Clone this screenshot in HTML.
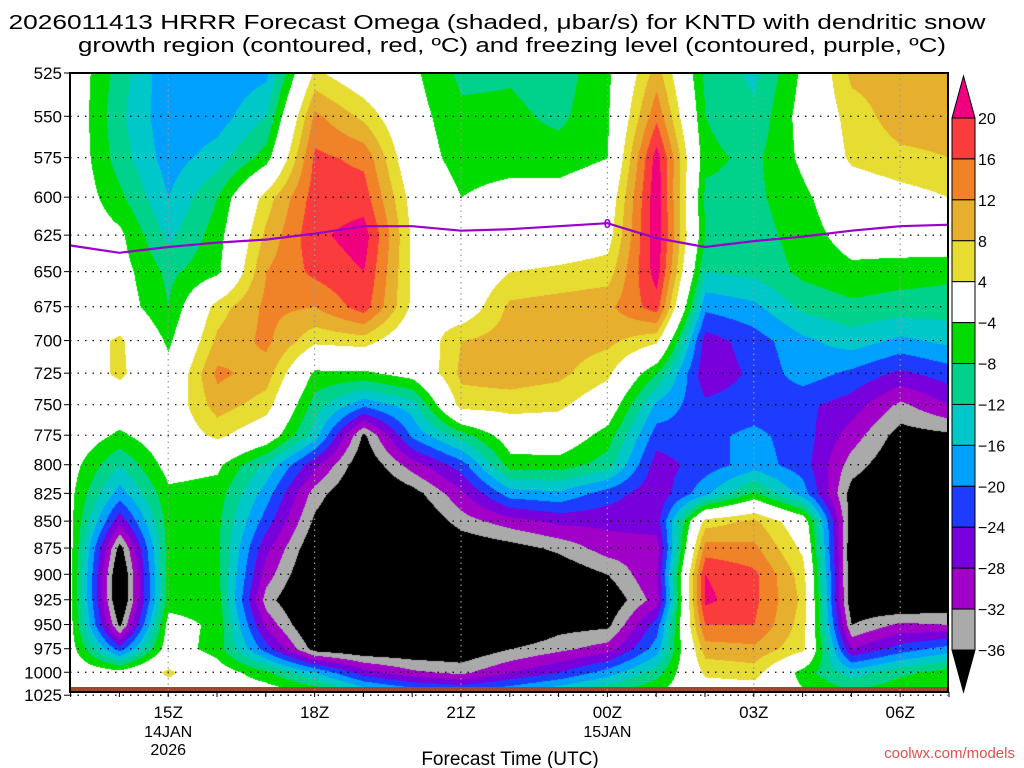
<!DOCTYPE html>
<html><head><meta charset="utf-8">
<style>
html,body{margin:0;padding:0;background:#fff;width:1024px;height:768px;overflow:hidden}
#wrap{position:relative;width:1024px;height:768px}
#fill{position:absolute;left:70px;top:73px}
svg{position:absolute;left:0;top:0}
text{font-family:"Liberation Sans",sans-serif}
</style></head><body>
<div id="wrap">
<canvas id="fill" width="878" height="620"></canvas>
<svg id="ov" width="1024" height="768"></svg>
</div>
<script>
// ---- data ----
const times = ["13Z","14Z","15Z","16Z","17Z","18Z","19Z","20Z","21Z","22Z","23Z","00Z","01Z","02Z","03Z","04Z","05Z","06Z","07Z"];
const levels = [525,550,575,600,625,650,675,700,725,750,775,800,825,850,875,900,925,950,975,1000,1025];
const w525 = [0,-10,-19,-19,-17,5,0,-3,-9,-8.5,-10,-5,10,-9,-13,-3,9,10,10];
const w550 = [0,-11,-19,-18,-12,13,7,-2,-7,-7,-9,-4.5,15,-8,-11,-2,6,10,10];
const w575 = [0,-10,-18,-14,-6,17,15,-1,-6,-6,-6,-4,22,-7,-9,-3,5,7,8];
const w600 = [0,-7,-16,-8,6,18,18,2,-4,-2,-2,0,23,-9,-9,-5,0,2,4];
const w625 = [0,-3,-13,-6,9,19,22,3,-1,-1,0,2,23,-8,-10,-6,-2,-1,0];
const w650 = [0,-2,-9,-5,12,17,20,3,-1,4,5,6,22,-12,-11,-7,-5,-6,-7];
const w675 = [0,-1,-8,6,13,12,18,3,0,9,10,11,18,-19,-17,-11,-9,-10,-10];
const w700 = [0,5,-5,9,13,5,6,-1,8,10,10,9,5,-26,-22,-17,-14,-17,-15];
const w725 = [0,5,-2,13,10,-5,-5,-2,9,10,9,5,-8,-27,-23,-18,-21,-25,-22];
const w750 = [0,0,0,10,6,-10,-19,-14,6,6,5,0,-17,-23,-22,-23,-26,-33,-28];
const w775 = [0,-5,0,5,0,-14,-37,-19,-10,-1,0,-6,-22,-21,-19,-22,-30,-38,-37];
const w800 = [-2,-12,-2,-3,-13,-27,-40,-30,-22,-6,-6,-10,-26,-22,-18,-22,-34,-40,-38];
const w825 = [-3,-18,-5,-6,-18,-34,-42,-38,-29,-18,-17,-22,-27,-17,-7,-18,-38,-42,-40];
const w850 = [-3,-27,-6,-7,-22,-37,-44,-42,-34,-30,-27,-27,-26,6,9,0,-39,-44,-42];
const w875 = [-3,-38,-6,-7,-27,-40,-45,-44,-40,-38,-35,-30,-30,14,13,3,-40,-44,-43];
const w900 = [-3,-42,-6,-7,-30,-42,-46,-46,-44,-44,-40,-36,-28,20,17,6,-40,-44,-42];
const w925 = [-3,-42,-6,-6,-34,-44,-46,-46,-45,-45,-42,-40,-30,21,17,7,-40,-42,-40];
const w950 = [-3,-37,-2,-5,-29,-42,-45,-45,-44,-43,-38,-37,-22,16,16,6,-36,-31,-32];
const w975 = [-2,-22,-1,-6,-22,-38,-40,-40,-40,-36,-33,-30,-18,10,11,5,-28,-22,-18];
const w1000 = [0,-2,5,-1,-7,-16,-26,-31,-33,-28,-24,-18,-10,5,6,-6,-14,-9,-6];
const w1025 = [0,0,0,0,0,-2,-10,-14,-16,-14,-10,-6,-3,0,0,-3,-6,-4,-3];
const omega = [w525,w550,w575,w600,w625,w650,w675,w700,w725,w750,w775,w800,w825,w850,w875,w900,w925,w950,w975,w1000,w1025];
// freezing level (hPa) per hour
const frzLevel = [632,637,633,630,628,624,619,619,622,621,619,617,627,633,629,626,622,619,618];
const cbarTicks = [20,16,12,8,4,-4,-8,-12,-16,-20,-24,-28,-32,-36];
const yTickLabels = ["525","550","575","600","625","650","675","700","725","750","775","800","825","850","875","900","925","950","975","1000","1025"];
const xTickLabels = ["15Z","18Z","21Z","00Z","03Z","06Z"];
const xTickHours = [2,5,8,11,14,17];

// ---- axes ----
const X0=70.6, DX=48.8, Y0=73, YS=930;
const xOf = h => X0 + h*DX;
const yOf = p => Y0 + YS*Math.log(p/525);
const pOf = y => 525*Math.exp((y-Y0)/YS);

const bounds=[-36,-32,-28,-24,-20,-16,-12,-8,-4,4,8,12,16,20];
const cols=["#000000","#aaaaaa","#a000c8","#7800dc","#1e3cff","#00a0ff","#00c8c8","#00d28c","#00dc00","#ffffff","#e6dc32","#e6af2d","#f08228","#fa3c3c","#f0007f"];
function colIdx(v){let i=0;while(i<bounds.length&&v>=bounds[i])i++;return i;}
function hex(c){return [parseInt(c.substr(1,2),16),parseInt(c.substr(3,2),16),parseInt(c.substr(5,2),16)];}
const rgb=cols.map(hex);

const cv=document.getElementById('fill'),ctx=cv.getContext('2d');
const img=ctx.createImageData(878,620);
for(let py=0;py<620;py++){
  const p=pOf(py+73); let li=(p-525)/25; li=Math.max(0,Math.min(levels.length-1.001,li));
  const l0=Math.floor(li),fl=li-l0;
  for(let px=0;px<878;px++){
    let ti=(px+70-X0)/DX; ti=Math.max(0,Math.min(times.length-1.001,ti));
    const t0=Math.floor(ti),ft=ti-t0;
    const v=(omega[l0][t0]*(1-ft)+omega[l0][t0+1]*ft)*(1-fl)+(omega[l0+1][t0]*(1-ft)+omega[l0+1][t0+1]*ft)*fl;
    const c=rgb[colIdx(v)],k=(py*878+px)*4;
    img.data[k]=c[0];img.data[k+1]=c[1];img.data[k+2]=c[2];img.data[k+3]=255;
  }
}
ctx.putImageData(img,0,0);

const NS="http://www.w3.org/2000/svg",svg=document.getElementById('ov');
function el(tag,attrs,parent){const e=document.createElementNS(NS,tag);for(const k in attrs)e.setAttribute(k,attrs[k]);(parent||svg).appendChild(e);return e;}
function txt(x,y,s,size,anchor,fill,tl){const t=el('text',{x:x,y:y,'font-size':size,'text-anchor':anchor||'start',fill:fill||'#000'});if(tl){t.setAttribute('textLength',tl);t.setAttribute('lengthAdjust','spacingAndGlyphs');}t.textContent=s;return t;}

// ground bar
const gb=el('rect',{x:70,y:687,width:878,height:6,fill:'#9b4a2a'});



// grid
levels.forEach((p,i)=>{
  const y=yOf(p);
  const g=el('line',{x1:70,x2:948,y1:y,y2:y,stroke:'#000','stroke-width':1.2,'stroke-dasharray':'1.5,6'});
  
  
  const t=txt(62,y+6,yTickLabels[i],17,'end');
  
  
  el('line',{x1:64,x2:70,y1:y,y2:y,stroke:'#000','stroke-width':1});
});
xTickHours.forEach((h,i)=>{
  const x=xOf(h);
  const g=el('line',{x1:x,x2:x,y1:73,y2:692,stroke:'#999','stroke-width':1.2,'stroke-dasharray':'1.5,4'});
  
  
  const t=txt(x,718,xTickLabels[i],17,'middle');
  
  
});
for(let h=0;h<times.length;h++){el('line',{x1:xOf(h),x2:xOf(h),y1:692,y2:697,stroke:'#000','stroke-width':1});}
txt(xOf(2),737,"14JAN",16,'middle');
txt(xOf(2),755,"2026",16,'middle');
txt(xOf(11),737,"15JAN",16,'middle');

// freezing line
let d="";
frzLevel.forEach((p,i)=>{d+=(i?"L":"M")+xOf(i).toFixed(1)+","+yOf(p).toFixed(1);});
const fl=el('path',{d:d,fill:'none',stroke:'#9900cc','stroke-width':2.2});


const fz=txt(xOf(11),yOf(frzLevel[11])+5,"0",13,'middle','#9900cc');
fz.setAttribute('font-weight','bold');



// frame
const fr=el('rect',{x:70,y:73,width:878,height:619,fill:'none',stroke:'#000','stroke-width':2});



// colorbar
const cb=el('g',{});


const CBT=118,CBB=650,NB=13,BH=(CBB-CBT)/NB,CX=952,CW=23;
el('polygon',{points:`${CX},${CBT} ${CX+CW},${CBT} ${CX+CW/2},${CBT-42}`,fill:cols[14],stroke:'#000'},cb);
for(let i=0;i<NB;i++){
  el('rect',{x:CX,y:CBT+i*BH,width:CW,height:BH,fill:cols[13-i],stroke:'#000','stroke-width':1},cb);
}
el('polygon',{points:`${CX},${CBB} ${CX+CW},${CBB} ${CX+CW/2},${CBB+42}`,fill:'#000',stroke:'#000'},cb);
cbarTicks.forEach((v,i)=>{
  const yy=CBT+i*BH;
  const t=txt(978,yy+6,(v<0?"\u2212":"")+Math.abs(v),16,'start','#000',null);
  
  
  cb.appendChild(t);
});

// titles
const t1=txt(497,29,"2026011413 HRRR Forecast Omega (shaded, \u03bcbar/s) for KNTD with dendritic snow",20,'middle','#000',977);


const t2=txt(512,52,"growth region (contoured, red, \u00baC) and freezing level (contoured, purple, \u00baC)",20,'middle','#000',868);


const xt=txt(510,765,"Forecast Time (UTC)",19,'middle');


const cr=txt(1015,758,"coolwx.com/models",15,'end','#e0504a');


</script>
</body></html>
